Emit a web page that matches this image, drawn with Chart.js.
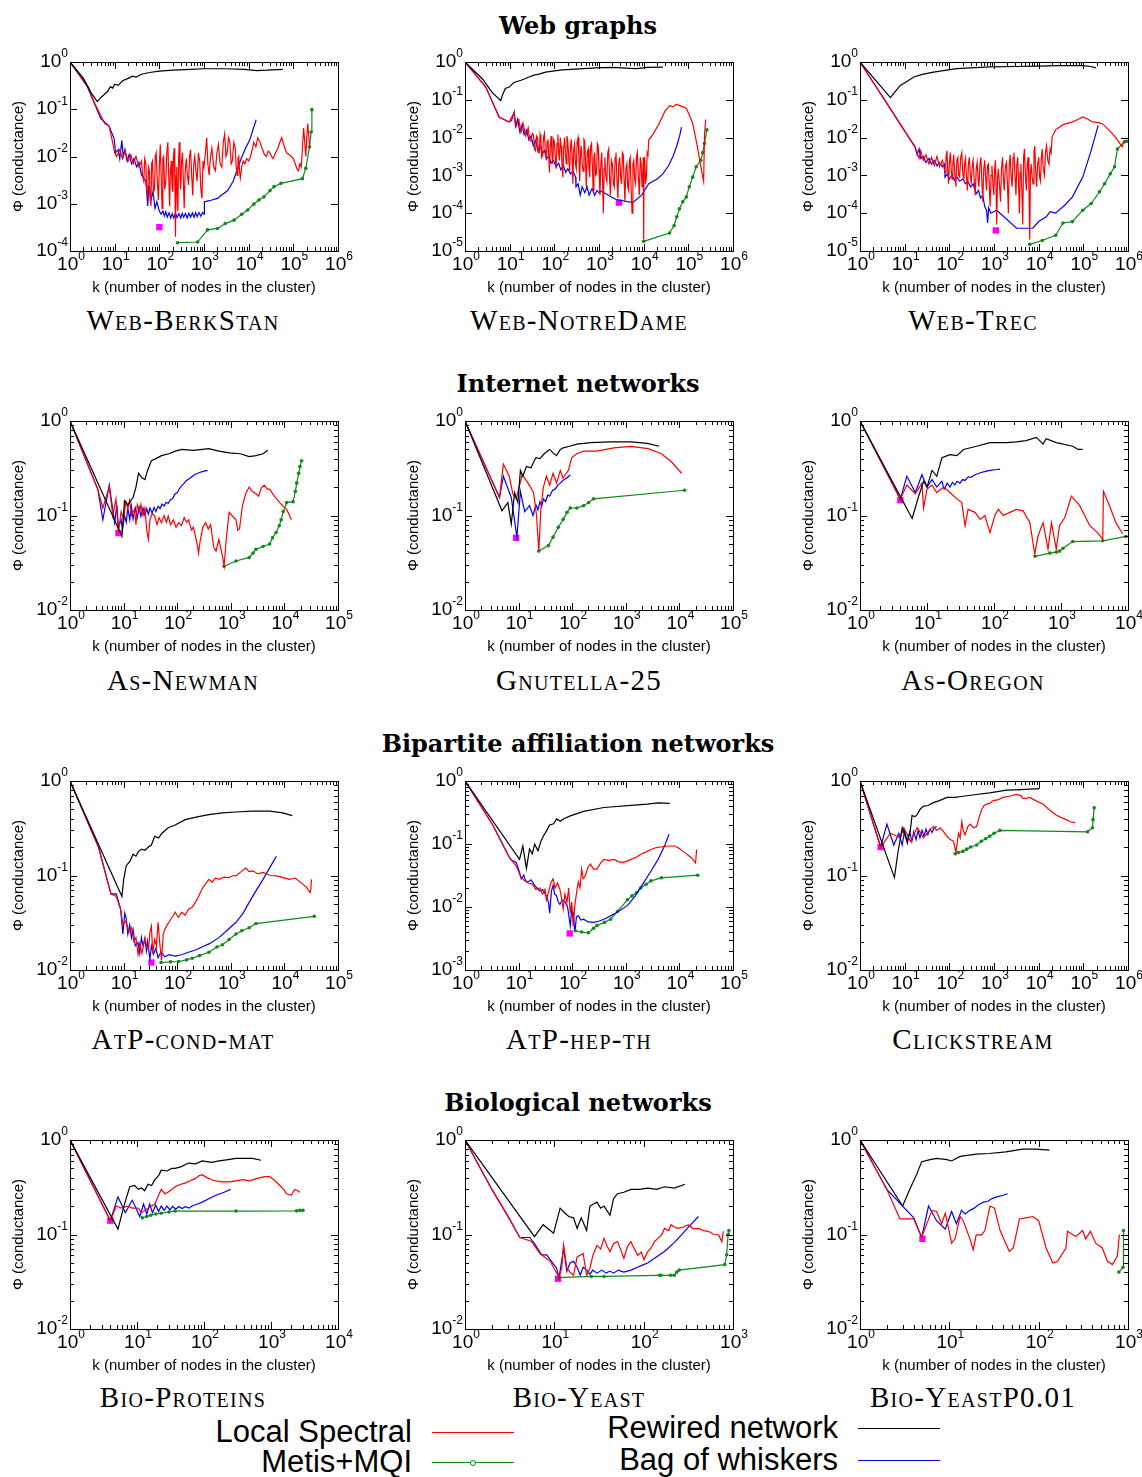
<!DOCTYPE html>
<html>
<head>
<meta charset="utf-8">
<script src="https://cdn.jsdelivr.net/npm/chart.js@4.4.0/dist/chart.umd.min.js"></script>
<style>
  body { margin: 0; background: #fff; width: 1142px; height: 1477px; position: relative; overflow: hidden; }
  .panel { position: absolute; width: 360px; height: 254px; }
  .section { position: absolute; left: 578px; transform: translate(-50%, -50%); font: bold 24px "DejaVu Serif"; white-space: nowrap; }
  .name { position: absolute; transform: translate(-50%, -50%); font: 29px "Liberation Serif"; font-variant: small-caps; letter-spacing: 1.3px; white-space: nowrap; }
  .ltext { position: absolute; font: 31px "Liberation Sans"; white-space: nowrap; transform: translateY(-50%); text-align: right; }
  .lline { position: absolute; width: 82px; height: 0; }
</style>
</head>
<body>
<script>
// ---- Web graphs ----
const berkstanRewired = [[1,1],[2,0.45],[3,0.22],[4.1,0.145],[5,0.18],[6,0.21],[7,0.24],[8,0.3],[9,0.28],[10,0.34],[12,0.32],[15,0.4],[20,0.45],[25,0.5],[30,0.48],[40,0.55],[60,0.6],[100,0.64],[200,0.67],[500,0.7],[1000,0.72],[3000,0.72],[8000,0.7],[15000,0.66],[25000,0.67],[58000,0.7]];
const berkstanSpectral = [[1,1],[2,0.42],[2.5,0.3],[3.5,0.14],[5,0.07],[6,0.05],[7.5,0.044],[9,0.02],[10,0.012],[11,0.01],[13,0.014],[15,0.009],[17,0.013],[20,0.008],[23,0.011],[26,0.007],[30,0.01],[35,0.006],[40,0.008],[42,0.004],[45,0.003],[47,0.009],[50,0.007],[52,0.002],[55,0.0015],[57,0.006],[60,0.005],[62,0.0012],[65,0.0009],[67,0.007],[70,0.008],[74,0.0018],[78,0.002],[81,0.01],[85,0.012],[90,0.003],[95,0.0012],[100,0.006],[105,0.018],[110,0.004],[115,0.0008],[120,0.009],[125,0.01],[132,0.002],[140,0.003],[147,0.012],[155,0.02],[162,0.004],[170,0.0009],[177,0.005],[185,0.008],[192,0.0025],[200,0.0018],[207,0.01],[215,0.015],[222,0.003],[230,0.0002],[237,0.004],[245,0.006],[252,0.0012],[260,0.0007],[270,0.009],[280,0.02],[290,0.005],[300,0.002],[315,0.008],[330,0.012],[345,0.003],[360,0.0008],[380,0.005],[400,0.009],[425,0.004],[450,0.0025],[475,0.01],[500,0.014],[530,0.004],[560,0.0015],[590,0.007],[620,0.01],[660,0.005],[700,0.003],[750,0.012],[800,0.008],[850,0.002],[900,0.0013],[950,0.008],[1000,0.006],[1075,0.012],[1150,0.025],[1220,0.007],[1300,0.004],[1400,0.01],[1500,0.015],[1650,0.006],[1800,0.005],[1950,0.012],[2100,0.018],[2300,0.007],[2500,0.006],[2700,0.02],[2900,0.03],[3100,0.01],[3300,0.012],[3550,0.025],[3800,0.02],[4050,0.007],[4300,0.008],[4650,0.02],[5000,0.015],[5250,0.006],[5500,0.004],[5750,0.009],[6000,0.01],[6250,0.005],[6500,0.0035],[7000,0.006],[7500,0.008],[8200,0.007],[9000,0.009],[10000,0.008],[11000,0.01],[12000,0.014],[13000,0.02],[14500,0.016],[16000,0.025],[18000,0.02],[20000,0.015],[22500,0.011],[25000,0.01],[27500,0.013],[30000,0.012],[32500,0.01],[35000,0.009],[40000,0.012],[45000,0.015],[50000,0.02],[55000,0.025],[62000,0.017],[70000,0.012],[80000,0.011],[90000,0.01],[100000,0.009],[110000,0.007],[120000,0.0055],[130000,0.005],[140000,0.007],[150000,0.006],[160000,0.015],[170000,0.04],[180000,0.02],[190000,0.01],[200000,0.025],[210000,0.05],[220000,0.03],[235000,0.015]];
const berkstanWhiskers = [[1,1],[2.45,0.3],[4.9,0.063],[7.5,0.044],[9.7,0.024],[10.5,0.012],[12,0.014],[13,0.009],[14.5,0.022],[15.5,0.01],[17,0.014],[19,0.008],[21,0.011],[24,0.007],[27,0.009],[31,0.006],[35,0.0075],[40,0.004],[45,0.0035],[50,0.003],[55,0.0009],[58,0.0025],[65,0.0012],[72,0.0018],[80,0.0008],[88,0.0011],[100,0.0007],[110,0.0006],[120,0.0007],[130,0.00055],[140,0.00068],[150,0.00052],[165,0.00064],[180,0.0005],[195,0.00062],[210,0.0005],[230,0.00063],[250,0.00051],[275,0.00062],[300,0.0005],[325,0.00063],[350,0.00052],[385,0.00062],[420,0.0005],[460,0.00063],[500,0.00052],[550,0.00064],[600,0.00052],[650,0.00065],[700,0.00053],[775,0.00065],[850,0.00054],[925,0.00065],[1000,0.0006],[1020,0.0011],[1500,0.0012],[2000,0.0013],[2400,0.0015],[3400,0.0019],[4500,0.003],[6600,0.0084],[8500,0.015],[10500,0.022],[14700,0.06]];
const berkstanMetis = [[256,0.00015],[720,0.000155],[1200,0.00028],[2000,0.0003],[3000,0.00038],[4700,0.00045],[7000,0.0006],[9500,0.00074],[13000,0.00098],[17000,0.0012],[22000,0.0014],[30000,0.0019],[37000,0.0023],[53000,0.0027],[160000,0.0034],[190000,0.0056],[230000,0.016],[250000,0.033],[260000,0.098]];
const berkstanBest = [100, 0.00032];

const notredameRewired = [[1,1],[2.5,0.35],[4,0.16],[6.3,0.095],[7,0.14],[8,0.2],[10,0.22],[12,0.28],[14,0.3],[18,0.33],[22,0.36],[27,0.4],[35,0.45],[45,0.48],[64,0.54],[100,0.58],[150,0.62],[300,0.65],[850,0.7],[2000,0.72],[5000,0.68],[7000,0.67],[12000,0.72],[27000,0.73]];
const notredameSpectral = [[1,1],[2.9,0.22],[5.8,0.035],[9.7,0.026],[12.6,0.045],[14,0.02],[16,0.03],[18,0.014],[20,0.024],[23,0.011],[26,0.018],[28,0.009],[30,0.008],[32,0.013],[34,0.012],[36,0.005],[38,0.0045],[40,0.011],[42,0.01],[44,0.004],[46,0.004],[48,0.012],[50,0.009],[52,0.003],[55,0.0035],[57,0.01],[60,0.013],[63,0.004],[66,0.0025],[69,0.008],[72,0.009],[75,0.003],[78,0.0012],[81,0.006],[85,0.011],[88,0.004],[92,0.002],[96,0.009],[100,0.008],[105,0.003],[110,0.0015],[115,0.007],[120,0.012],[125,0.004],[130,0.0025],[136,0.01],[142,0.006],[148,0.002],[155,0.0009],[162,0.005],[170,0.01],[177,0.004],[185,0.002],[192,0.011],[200,0.008],[210,0.003],[220,0.0012],[230,0.006],[240,0.009],[250,0.003],[260,0.0006],[272,0.005],[285,0.007],[297,0.002],[310,0.0015],[325,0.008],[340,0.01],[355,0.003],[370,0.0007],[385,0.004],[400,0.006],[420,0.002],[440,0.0013],[460,0.009],[480,0.008],[500,0.002],[520,0.0005],[545,0.004],[570,0.005],[595,0.0015],[620,0.0009],[650,0.006],[680,0.007],[710,0.002],[740,0.0004],[770,0.003],[800,0.004],[840,0.001],[880,0.0011],[920,0.007],[960,0.006],[1000,0.0015],[1050,0.0003],[1100,0.002],[1150,0.004],[1200,0.0008],[1250,0.0001],[1300,0.0015],[1350,0.003],[1420,0.001],[1500,0.0007],[1570,0.004],[1650,0.005],[1720,0.0009],[1800,0.0003],[1900,0.0025],[2000,0.002],[2100,0.0006],[2200,0.0005],[2300,0.003],[2400,0.004],[2520,0.0008],[2650,0.00025],[2770,0.002],[2900,0.003],[3050,0.0009],[3200,0.0006],[3350,0.004],[3500,0.0035],[3650,0.0007],[3800,0.0002],[4000,0.0015],[4200,0.002],[4400,0.0005],[4600,0.0004],[4800,0.0025],[5000,0.003],[5250,0.0004],[5500,0.0001],[5750,0.002],[6000,0.0025],[6300,0.0008],[6600,0.0006],[6900,0.003],[7200,0.004],[7600,0.0009],[8000,0.0003],[8400,0.003],[8800,0.002],[9200,0.0005],[9500,0.0008],[9800,0.003],[10000,0.00002],[10200,0.0025],[10500,0.003],[11000,0.0006],[11500,0.0009],[12000,0.004],[12500,0.0035],[13000,0.0086],[16000,0.012],[22000,0.023],[30000,0.05],[38000,0.07],[45000,0.065],[53000,0.075],[65000,0.07],[90000,0.06],[110000,0.035],[125000,0.024],[160000,0.0057],[190000,0.0017],[220000,0.0007],[230000,0.012],[245000,0.03]];
const notredameWhiskers = [[1,1],[2.9,0.22],[5.8,0.035],[9.7,0.026],[11,0.028],[12.6,0.048],[13.5,0.02],[15,0.03],[17,0.014],[19,0.022],[21,0.012],[24,0.016],[27,0.0086],[30,0.011],[34,0.006],[38,0.0085],[43,0.0045],[48,0.006],[54,0.0038],[60,0.0045],[67,0.0028],[75,0.0032],[85,0.0021],[95,0.0025],[110,0.0017],[125,0.0021],[140,0.0014],[160,0.0018],[180,0.0012],[200,0.0015],[230,0.0011],[260,0.0013],[300,0.0009],[305,0.0005],[340,0.0006],[380,0.0003],[420,0.0005],[480,0.00035],[540,0.0005],[600,0.0003],[700,0.00045],[800,0.0003],[900,0.0004],[1000,0.00035],[1050,0.0004],[2400,0.00023],[5700,0.00019],[9000,0.0003],[13000,0.0006],[20000,0.0008],[27000,0.0011],[36000,0.0018],[45000,0.0031],[55000,0.006],[65000,0.012],[70000,0.019]];
const notredameMetis = [[10000,0.000018],[38000,0.00003],[48000,0.000047],[55000,0.00008],[63000,0.00013],[75000,0.0002],[90000,0.00027],[105000,0.0005],[125000,0.0009],[150000,0.0017],[190000,0.0025],[210000,0.004],[230000,0.007],[260000,0.016]];
const notredameBest = [2800, 0.00019];

const trecRewired = [[1,1],[4.8,0.114],[6,0.16],[8,0.24],[11,0.3],[16,0.4],[25,0.47],[44,0.54],[80,0.6],[146,0.67],[300,0.7],[800,0.74],[3000,0.76],[10000,0.78],[25000,0.8],[96000,0.8],[150000,0.76],[190000,0.7]];
const trecSpectral = [[1,1],[17,0.0057],[19,0.004],[21,0.0028],[23,0.0045],[26,0.0025],[30,0.0035],[35,0.002],[40,0.003],[46,0.0018],[53,0.0032],[60,0.0017],[70,0.0025],[80,0.0012],[84,0.003],[88,0.0045],[92,0.0015],[96,0.0006],[100,0.002],[105,0.004],[110,0.0015],[115,0.0008],[120,0.002],[125,0.0035],[132,0.0012],[140,0.0005],[147,0.0025],[155,0.003],[162,0.001],[170,0.0009],[180,0.003],[190,0.004],[200,0.0012],[210,0.0007],[220,0.002],[230,0.0028],[242,0.0009],[255,0.0004],[267,0.002],[280,0.003],[295,0.001],[310,0.0006],[325,0.0018],[340,0.0025],[360,0.0008],[380,0.0003],[400,0.0015],[420,0.0022],[440,0.0008],[460,0.0005],[485,0.002],[510,0.003],[535,0.0007],[560,0.0002],[590,0.0015],[620,0.0025],[650,0.0009],[680,0.0004],[715,0.0018],[750,0.002],[785,0.0005],[820,0.00015],[860,0.001],[900,0.0018],[945,0.0006],[990,0.0003],[1035,0.0015],[1080,0.0025],[1115,0.0004],[1150,0.00005],[1200,0.0008],[1250,0.0015],[1320,0.0006],[1400,0.0002],[1470,0.0015],[1550,0.003],[1620,0.0009],[1700,0.0004],[1800,0.0018],[1900,0.0022],[2000,0.0006],[2100,0.0001],[2200,0.002],[2300,0.0035],[2420,0.0009],[2550,0.0005],[2670,0.003],[2800,0.004],[2950,0.001],[3100,0.0003],[3250,0.002],[3400,0.003],[3550,0.0006],[3700,0.0001],[3850,0.0012],[4000,0.002],[4200,0.0004],[4400,0.00005],[4600,0.003],[4800,0.005],[5050,0.001],[5300,0.0004],[5550,0.002],[5800,0.003],[6050,0.0005],[6300,0.00002],[6550,0.0012],[6800,0.002],[7150,0.0009],[7500,0.0006],[7850,0.004],[8200,0.006],[8600,0.0012],[9000,0.0005],[9500,0.002],[10000,0.003],[10500,0.0009],[11000,0.0007],[11500,0.003],[12000,0.005],[12700,0.0015],[13500,0.001],[14200,0.004],[15000,0.006],[16000,0.0025],[17000,0.002],[18000,0.005],[19000,0.004],[20000,0.0105],[24000,0.016],[35000,0.022],[57000,0.026],[75000,0.03],[97000,0.035],[130000,0.03],[160000,0.026],[220000,0.025],[270000,0.023],[370000,0.016],[500000,0.011],[620000,0.0077],[740000,0.0057],[800000,0.008],[870000,0.0085]];
const trecWhiskers = [[1,1],[17,0.0057],[19,0.0035],[21,0.005],[23,0.0028],[26,0.0032],[30,0.0022],[35,0.0028],[40,0.002],[46,0.0025],[53,0.0018],[60,0.0022],[70,0.0017],[78,0.002],[80,0.0009],[90,0.0011],[100,0.0008],[115,0.001],[130,0.00075],[150,0.0009],[170,0.0007],[200,0.0008],[230,0.0006],[260,0.0007],[300,0.0005],[340,0.0006],[400,0.00033],[450,0.0004],[500,0.00025],[560,0.0003],[620,0.00015],[680,0.00012],[720,0.000055],[760,0.00014],[850,0.0001],[1150,0.00012],[3200,0.00004],[7400,0.00004],[10000,0.00006],[14800,0.00008],[18000,0.00011],[24000,0.0001],[40000,0.00017],[57000,0.00027],[97000,0.0009],[150000,0.0046],[215000,0.021]];
const trecMetis = [[6300,0.000015],[12000,0.000019],[24000,0.000026],[35000,0.000055],[57000,0.00006],[97000,0.00012],[150000,0.00018],[230000,0.00037],[300000,0.0006],[400000,0.0011],[500000,0.0017],[580000,0.005],[830000,0.0077],[930000,0.008]];
const trecBest = [1100, 0.000035];

// ---- Internet networks ----
const newmanRewired = [[1,1],[9.3,0.06],[10.4,0.143],[12,0.13],[15,0.155],[17,0.2],[19,0.28],[22,0.25],[25,0.24],[28,0.3],[33,0.38],[40,0.4],[51,0.43],[70,0.45],[92,0.48],[122,0.5],[200,0.49],[390,0.51],[600,0.48],[930,0.46],[1500,0.45],[2200,0.42],[2950,0.43],[4000,0.45],[4900,0.49]];
const newmanSpectral = [[1,1],[3.3,0.19],[4.1,0.12],[5.4,0.2],[6.3,0.1],[7.2,0.15],[8,0.065],[9,0.11],[10,0.09],[11,0.14],[12,0.12],[13,0.145],[14,0.1],[16,0.116],[17,0.08],[18,0.13],[20,0.11],[21,0.13],[23,0.1],[25,0.12],[27,0.07],[29,0.056],[31,0.09],[34,0.105],[38,0.099],[42,0.08],[46,0.095],[51,0.084],[57,0.1],[63,0.085],[68,0.099],[75,0.08],[85,0.09],[95,0.075],[106,0.084],[120,0.078],[135,0.095],[150,0.085],[163,0.09],[185,0.07],[200,0.075],[218,0.061],[235,0.05],[250,0.04],[270,0.055],[300,0.075],[340,0.084],[380,0.072],[420,0.08],[480,0.046],[530,0.042],[600,0.056],[650,0.045],[700,0.037],[750,0.029],[830,0.06],[930,0.108],[1050,0.1],[1250,0.09],[1350,0.07],[1450,0.072],[1650,0.127],[1900,0.17],[2200,0.2],[2500,0.18],[2950,0.17],[3300,0.16],[3700,0.195],[4200,0.21],[4800,0.19],[5300,0.19],[6500,0.16],[8200,0.137],[9500,0.125],[11000,0.116],[12500,0.1],[13500,0.09]];
const newmanWhiskers = [[1,1],[3.3,0.19],[4.1,0.09],[5.4,0.21],[6.8,0.084],[7.5,0.13],[8,0.075],[9,0.09],[9.5,0.07],[10.4,0.1],[11.2,0.085],[12,0.12],[13,0.09],[14,0.125],[15,0.092],[16.5,0.12],[18,0.095],[19.5,0.122],[21,0.098],[23,0.12],[25,0.1],[27,0.118],[29,0.103],[31,0.12],[34,0.106],[37,0.122],[40,0.11],[44,0.125],[48,0.118],[52,0.132],[57,0.126],[62,0.138],[68,0.134],[75,0.148],[82,0.15],[90,0.168],[100,0.175],[115,0.2],[130,0.215],[150,0.235],[175,0.25],[210,0.27],[260,0.285],[320,0.295],[370,0.3]];
const newmanMetis = [[750,0.029],[1250,0.033],[2200,0.036],[2600,0.04],[2950,0.044],[4000,0.047],[5300,0.05],[6000,0.058],[7000,0.066],[8000,0.078],[8700,0.09],[9500,0.11],[11000,0.137],[14500,0.14],[16000,0.18],[17000,0.22],[18500,0.28],[19500,0.33],[21000,0.38]];
const newmanBest = [8, 0.065];

const gnutellaRewired = [[1,1],[4.9,0.112],[6.3,0.137],[7.3,0.081],[8.4,0.175],[9.7,0.137],[10.8,0.3],[12,0.26],[14,0.33],[17,0.32],[21,0.41],[25,0.4],[30,0.45],[38,0.5],[44,0.46],[51,0.43],[60,0.5],[68,0.52],[90,0.54],[122,0.57],[220,0.59],[500,0.6],[1250,0.6],[2500,0.58],[4200,0.54]];
const gnutellaSpectral = [[1,1],[4.4,0.155],[5.2,0.35],[6.7,0.26],[7.8,0.17],[9,0.15],[11.7,0.27],[15,0.22],[19,0.175],[21.6,0.1],[23.8,0.042],[26,0.116],[29,0.2],[33,0.26],[38,0.21],[44,0.28],[51,0.22],[60,0.3],[67,0.25],[74,0.27],[85,0.3],[98,0.41],[122,0.45],[163,0.48],[290,0.48],[600,0.52],[1250,0.54],[2600,0.51],[4600,0.45],[7100,0.37],[11000,0.28]];
const gnutellaWhiskers = [[1,1],[4.4,0.155],[5.2,0.26],[7.3,0.155],[9.3,0.059],[10.8,0.18],[13,0.11],[16,0.127],[18.6,0.1],[21,0.13],[23,0.115],[25,0.14],[27,0.125],[29,0.15],[32,0.14],[35,0.165],[38,0.16],[43,0.185],[48,0.19],[54,0.21],[60,0.22],[70,0.24],[80,0.25],[92,0.27]];
const gnutellaMetis = [[23.8,0.042],[36,0.048],[44,0.059],[55,0.075],[68,0.091],[80,0.108],[92,0.12],[122,0.12],[163,0.127],[203,0.137],[250,0.15],[12500,0.185]];
const gnutellaBest = [9, 0.058];

const oregonRewired = [[1,1],[6,0.093],[7.5,0.16],[8.9,0.23],[10,0.2],[11.9,0.3],[14,0.26],[16.7,0.41],[22,0.44],[28,0.43],[35,0.5],[55,0.54],[87,0.59],[155,0.59],[216,0.6],[300,0.62],[430,0.67],[540,0.57],[600,0.65],[850,0.59],[1500,0.54],[1800,0.5],[2100,0.5]];
const oregonSpectral = [[1,1],[4,0.149],[5,0.21],[6.7,0.17],[8.4,0.22],[8.9,0.12],[10,0.19],[11.9,0.21],[14,0.175],[17.7,0.2],[22,0.175],[28,0.15],[33,0.137],[37,0.078],[41,0.116],[52,0.108],[62,0.091],[73,0.1],[87,0.066],[103,0.1],[116,0.116],[138,0.1],[173,0.108],[216,0.116],[272,0.112],[343,0.084],[405,0.039],[455,0.061],[540,0.084],[640,0.044],[720,0.084],[850,0.044],[950,0.078],[1140,0.095],[1430,0.16],[1900,0.127],[2700,0.078],[3500,0.066],[4200,0.056],[4300,0.18],[5300,0.127],[6600,0.084],[8300,0.064]];
const oregonWhiskers = [[1,1],[4,0.149],[5,0.26],[6.7,0.175],[8.4,0.27],[10,0.2],[11.9,0.24],[14,0.2],[16.7,0.23],[18,0.19],[20,0.22],[22,0.2],[24,0.225],[26,0.21],[28,0.23],[31,0.22],[34,0.24],[37,0.235],[41,0.255],[46,0.255],[52,0.27],[60,0.28],[70,0.29],[87,0.3],[105,0.305],[123,0.31]];
const oregonMetis = [[410,0.037],[680,0.04],[850,0.041],[950,0.042],[1070,0.045],[1500,0.053],[4200,0.054],[9300,0.06]];
const oregonBest = [4, 0.145];

// ---- Bipartite affiliation networks ----
const condmatRewired = [[1,1],[9.3,0.06],[10,0.09],[11.2,0.127],[13,0.14],[15,0.168],[17,0.16],[19,0.18],[21.6,0.19],[25,0.185],[29,0.2],[33,0.21],[38,0.26],[45,0.25],[52,0.28],[68,0.32],[90,0.34],[141,0.39],[250,0.42],[390,0.44],[700,0.46],[1250,0.47],[2500,0.48],[5300,0.48],[9400,0.46],[14000,0.43]];
const condmatSpectral = [[1,1],[3.4,0.2],[5.8,0.064],[7.3,0.06],[8.8,0.044],[9.7,0.03],[11,0.033],[12.5,0.025],[14,0.028],[15.5,0.02],[17,0.022],[18.6,0.0147],[20,0.019],[22,0.015],[25,0.022],[27,0.017],[29,0.0164],[31,0.025],[33,0.029],[35,0.015],[38,0.021],[41,0.018],[44,0.032],[47,0.02],[51,0.0126],[55,0.024],[59,0.027],[65,0.03],[75,0.034],[85,0.038],[92,0.041],[105,0.036],[122,0.041],[140,0.038],[163,0.044],[190,0.046],[218,0.052],[250,0.06],[290,0.072],[340,0.082],[390,0.091],[450,0.085],[520,0.094],[600,0.091],[750,0.096],[930,0.095],[1100,0.1],[1250,0.099],[1500,0.108],[1900,0.12],[2200,0.11],[2600,0.112],[3200,0.104],[4000,0.108],[5500,0.1],[7100,0.099],[9500,0.095],[12500,0.091],[16000,0.094],[22000,0.081],[26000,0.075],[30000,0.066],[31000,0.07],[32000,0.091]];
const condmatWhiskers = [[1,1],[3.4,0.2],[5.8,0.064],[7.3,0.064],[8.8,0.044],[9.7,0.024],[10.5,0.04],[11.2,0.035],[12,0.024],[13,0.03],[14,0.022],[15,0.027],[16.5,0.018],[18.6,0.0195],[20,0.015],[21.5,0.022],[23,0.018],[25,0.021],[26.7,0.016],[28,0.02],[31,0.013],[33,0.018],[36,0.0147],[40,0.017],[44,0.0135],[50,0.0155],[59,0.0138],[70,0.0145],[92,0.014],[120,0.0145],[163,0.0154],[220,0.0163],[290,0.0175],[400,0.019],[600,0.022],[900,0.027],[1250,0.032],[1700,0.04],[2200,0.052],[3000,0.07],[4000,0.091],[5500,0.125],[7100,0.16]];
const condmatMetis = [[50,0.012],[75,0.0122],[106,0.0123],[150,0.0128],[190,0.0133],[260,0.0142],[390,0.0154],[550,0.0175],[700,0.0185],[930,0.021],[1250,0.024],[1600,0.026],[2200,0.028],[2950,0.031],[36000,0.037]];
const condmatBest = [33, 0.012];

const hepthRewired = [[1,1],[10.4,0.057],[12,0.093],[14,0.041],[16,0.083],[18,0.07],[20,0.099],[23,0.078],[26,0.11],[29,0.134],[33,0.16],[38,0.2],[45,0.21],[51,0.25],[60,0.23],[68,0.25],[92,0.28],[163,0.33],[390,0.38],[1250,0.41],[2500,0.43],[4000,0.45],[6600,0.44]];
const hepthSpectral = [[1,1],[3.3,0.2],[5,0.1],[6.8,0.06],[9,0.045],[11,0.03],[13,0.026],[15,0.024],[18,0.023],[21,0.019],[25,0.02],[28,0.016],[31,0.019],[33,0.013],[36,0.017],[40,0.024],[44,0.028],[48,0.02],[53,0.024],[59,0.019],[64,0.013],[68,0.0093],[73,0.016],[80,0.012],[86,0.02],[92,0.008],[98,0.012],[104,0.005],[110,0.009],[114,0.012],[122,0.018],[130,0.025],[140,0.02],[150,0.04],[160,0.028],[175,0.031],[195,0.042],[218,0.048],[250,0.04],[290,0.04],[340,0.05],[390,0.057],[480,0.055],[600,0.057],[750,0.052],[930,0.051],[1250,0.057],[1600,0.062],[1900,0.069],[2400,0.075],[2950,0.082],[3700,0.088],[4600,0.09],[6000,0.093],[8200,0.093],[10000,0.085],[12500,0.073],[15000,0.065],[17000,0.06],[20000,0.05],[21000,0.082]];
const hepthWhiskers = [[1,1],[3.3,0.2],[5,0.1],[6.8,0.06],[7.5,0.055],[9,0.051],[10,0.04],[11.2,0.028],[12.5,0.032],[13.5,0.026],[15,0.025],[17,0.027],[20,0.022],[22,0.02],[25,0.018],[28,0.019],[33,0.015],[36,0.012],[38,0.008],[41,0.018],[44,0.022],[47,0.016],[51,0.015],[55,0.012],[59,0.011],[65,0.013],[74,0.012],[82,0.01],[92,0.005],[98,0.009],[106,0.008],[110,0.0045],[114,0.0045],[120,0.007],[130,0.0073],[145,0.0062],[163,0.0064],[200,0.0058],[250,0.0057],[320,0.006],[390,0.0064],[600,0.0077],[1070,0.0105],[1500,0.015],[2200,0.025],[3000,0.038],[4000,0.057],[5200,0.09],[6400,0.143]];
const hepthMetis = [[114,0.0042],[150,0.004],[200,0.0039],[250,0.0046],[290,0.0051],[400,0.0057],[520,0.0064],[700,0.0085],[1070,0.013],[1300,0.015],[1600,0.017],[1900,0.02],[2400,0.023],[2950,0.026],[4600,0.029],[22000,0.032]];
const hepthBest = [90, 0.0038];

const clickRewired = [[1,1],[5.9,0.095],[7,0.17],[8.8,0.32],[10,0.27],[11.3,0.23],[13.4,0.3],[14.6,0.43],[17,0.42],[19,0.44],[22,0.5],[26,0.54],[33,0.55],[44,0.59],[60,0.62],[88,0.67],[130,0.67],[206,0.69],[400,0.72],[800,0.75],[1900,0.8],[4000,0.81],[10500,0.83]];
const clickSpectral = [[1,1],[2.9,0.2],[4.8,0.28],[6.8,0.26],[8,0.25],[9.5,0.32],[11,0.28],[13.4,0.23],[16,0.27],[19,0.32],[22,0.29],[26,0.25],[32,0.28],[38,0.31],[44,0.33],[52,0.3],[62,0.32],[75,0.29],[88,0.26],[105,0.24],[124,0.23],[141,0.175],[160,0.28],[175,0.25],[190,0.37],[205,0.3],[225,0.27],[260,0.33],[290,0.35],[350,0.32],[410,0.33],[470,0.42],[530,0.5],[600,0.55],[680,0.57],[800,0.58],[960,0.62],[1200,0.63],[1600,0.67],[2200,0.69],[3200,0.72],[4000,0.7],[4500,0.65],[5500,0.66],[6400,0.67],[8500,0.62],[12500,0.57],[17000,0.5],[24000,0.44],[32000,0.41],[41000,0.39],[52000,0.37],[66000,0.36]];
const clickWhiskers = [[1,1],[2.9,0.2],[4,0.35],[5.7,0.21],[7.4,0.28],[8.8,0.21],[10,0.3],[11.5,0.22],[13,0.29],[14.5,0.23],[16,0.29],[18,0.24],[20,0.3],[22,0.25],[24.5,0.3],[27,0.26],[30,0.31],[33,0.27],[37,0.31],[41,0.285],[46,0.32],[52,0.33]];
const clickMetis = [[135,0.17],[160,0.175],[200,0.18],[245,0.19],[300,0.2],[410,0.21],[520,0.23],[650,0.245],[800,0.26],[1000,0.28],[1350,0.3],[124000,0.29],[160000,0.32],[165000,0.39],[175000,0.52]];
const clickBest = [2.9, 0.2];

// ---- Biological networks ----
const proteinsRewired = [[1,1],[5.2,0.114],[6.5,0.21],[7.8,0.32],[9.2,0.33],[10.5,0.3],[11.7,0.31],[13,0.29],[14.6,0.34],[16.5,0.33],[18.5,0.38],[21,0.42],[23,0.48],[28,0.47],[33,0.5],[37,0.5],[45,0.52],[59,0.57],[75,0.56],[94,0.6],[130,0.58],[168,0.6],[230,0.62],[300,0.64],[530,0.64],[710,0.61]];
const proteinsSpectral = [[1,1],[4,0.14],[4.9,0.2],[5.8,0.19],[7.3,0.2],[8.5,0.19],[10.4,0.19],[11.7,0.17],[13,0.18],[14.6,0.19],[16.5,0.2],[18.5,0.21],[21,0.26],[23,0.3],[26,0.27],[29,0.28],[33,0.3],[37,0.32],[45,0.34],[52,0.35],[62,0.37],[74,0.39],[85,0.42],[94,0.43],[110,0.4],[130,0.38],[150,0.37],[190,0.36],[240,0.36],[300,0.37],[380,0.38],[480,0.37],[600,0.39],[800,0.41],[950,0.41],[1150,0.37],[1350,0.33],[1550,0.3],[1700,0.27],[2000,0.26],[2250,0.3],[2500,0.29],[2700,0.28]];
const proteinsWhiskers = [[1,1],[4,0.14],[5.2,0.25],[6.7,0.17],[8.5,0.23],[11,0.155],[12.5,0.21],[14,0.165],[15.5,0.21],[17,0.17],[19,0.205],[21,0.175],[23,0.2],[25.5,0.18],[28,0.2],[31,0.182],[34,0.198],[38,0.185],[42,0.198],[47,0.188],[53,0.197],[60,0.19],[66,0.2],[80,0.21],[94,0.22],[120,0.24],[150,0.26],[200,0.28],[250,0.3]];
const proteinsMetis = [[12,0.15],[14,0.155],[16,0.16],[19,0.165],[23,0.168],[30,0.173],[37,0.177],[300,0.177],[2400,0.178],[2700,0.18],[3000,0.18]];
const proteinsBest = [4, 0.14];

const yeastRewired = [[1,1],[6,0.095],[7.5,0.127],[9.8,0.103],[11.6,0.19],[13,0.17],[14.5,0.155],[16.4,0.15],[18,0.116],[20,0.15],[23,0.11],[25,0.2],[30,0.22],[33,0.19],[36,0.2],[42,0.16],[46,0.24],[51,0.27],[60,0.28],[72,0.3],[90,0.3],[111,0.31],[140,0.3],[171,0.32],[220,0.31],[290,0.34]];
const yeastSpectral = [[1,1],[2,0.3],[3.1,0.15],[4.1,0.093],[5.5,0.085],[6.9,0.063],[9,0.052],[11.3,0.035],[12.1,0.044],[12.7,0.078],[13.8,0.044],[15,0.04],[16.4,0.037],[18,0.058],[21,0.063],[23,0.037],[25,0.044],[27,0.06],[30,0.077],[33,0.07],[36,0.091],[39,0.075],[42,0.066],[46,0.08],[51,0.084],[55,0.07],[60,0.056],[66,0.075],[72,0.084],[79,0.07],[86,0.06],[94,0.065],[101,0.054],[110,0.065],[121,0.072],[133,0.085],[145,0.091],[160,0.1],[171,0.116],[190,0.11],[203,0.127],[220,0.12],[242,0.116],[280,0.12],[315,0.127],[360,0.115],[410,0.116],[470,0.11],[530,0.108],[610,0.1],[690,0.099],[750,0.084],[780,0.108]];
const yeastWhiskers = [[1,1],[2,0.3],[3.1,0.15],[4.1,0.093],[5.3,0.093],[6,0.08],[7.2,0.061],[8.2,0.061],[10.6,0.044],[11.3,0.035],[12.7,0.072],[13.8,0.041],[15,0.05],[16.4,0.052],[18,0.045],[19.5,0.037],[21,0.045],[23,0.042],[25,0.038],[27,0.042],[30,0.039],[34,0.042],[38,0.039],[42,0.041],[46,0.039],[52,0.042],[60,0.04],[72,0.042],[85,0.045],[100,0.048],[111,0.05],[140,0.058],[171,0.066],[220,0.082],[265,0.099],[330,0.125],[410,0.155]];
const yeastMetis = [[11.3,0.035],[26,0.036],[36,0.036],[150,0.037],[157,0.037],[200,0.037],[220,0.037],[235,0.04],[250,0.042],[810,0.048],[850,0.061],[880,0.1],[900,0.11]];
const yeastBest = [11, 0.034];

const yeastpRewired = [[1,1],[3,0.2],[3.66,0.31],[4.3,0.43],[4.9,0.59],[6.1,0.62],[7.2,0.64],[9.4,0.62],[10.6,0.6],[13.2,0.67],[20,0.71],[28,0.72],[43,0.75],[66,0.8],[94,0.8],[132,0.78]];
const yeastpSpectral = [[1,1],[2,0.3],[2.8,0.146],[4,0.146],[4.9,0.093],[5.6,0.13],[6.4,0.18],[7.2,0.175],[8.2,0.13],[9,0.168],[9.4,0.14],[10.6,0.081],[11.6,0.09],[13.2,0.155],[14.3,0.14],[17,0.09],[18.5,0.069],[20,0.099],[23,0.099],[25,0.11],[28.5,0.2],[32,0.19],[37,0.11],[42,0.084],[47,0.066],[52,0.072],[61,0.146],[72,0.15],[86,0.155],[100,0.14],[121,0.072],[144,0.05],[163,0.052],[202,0.072],[210,0.108],[260,0.095],[310,0.11],[335,0.09],[380,0.108],[435,0.081],[515,0.072],[590,0.052],[670,0.048],[760,0.059],[800,0.1]];
const yeastpWhiskers = [[1,1],[2,0.3],[3,0.2],[4,0.15],[4.9,0.093],[5.85,0.2],[7.2,0.14],[9,0.114],[10.6,0.175],[12,0.13],[13.7,0.18],[15,0.165],[17,0.18],[19,0.19],[21,0.205],[24,0.22],[27,0.225],[30,0.24],[34,0.25],[40,0.26],[45,0.27]];
const yeastpMetis = [[790,0.04],[880,0.045],[890,0.11]];
const yeastpBest = [5, 0.09];

const sectionTitles = ['Web graphs', 'Internet networks', 'Bipartite affiliation networks', 'Biological networks'];
const legendLabels = ['Local Spectral', 'Metis+MQI', 'Rewired network', 'Bag of whiskers'];

const panels = [
  { name: 'Web-BerkStan', xMax: 1e6, yMin: 1e-4, rewired: berkstanRewired, spectral: berkstanSpectral, whiskers: berkstanWhiskers, metis: berkstanMetis, best: berkstanBest },
  { name: 'Web-NotreDame', xMax: 1e6, yMin: 1e-5, rewired: notredameRewired, spectral: notredameSpectral, whiskers: notredameWhiskers, metis: notredameMetis, best: notredameBest },
  { name: 'Web-Trec', xMax: 1e6, yMin: 1e-5, rewired: trecRewired, spectral: trecSpectral, whiskers: trecWhiskers, metis: trecMetis, best: trecBest },
  { name: 'As-Newman', xMax: 1e5, yMin: 1e-2, rewired: newmanRewired, spectral: newmanSpectral, whiskers: newmanWhiskers, metis: newmanMetis, best: newmanBest },
  { name: 'Gnutella-25', xMax: 1e5, yMin: 1e-2, rewired: gnutellaRewired, spectral: gnutellaSpectral, whiskers: gnutellaWhiskers, metis: gnutellaMetis, best: gnutellaBest },
  { name: 'As-Oregon', xMax: 1e4, yMin: 1e-2, rewired: oregonRewired, spectral: oregonSpectral, whiskers: oregonWhiskers, metis: oregonMetis, best: oregonBest },
  { name: 'AtP-cond-mat', xMax: 1e5, yMin: 1e-2, rewired: condmatRewired, spectral: condmatSpectral, whiskers: condmatWhiskers, metis: condmatMetis, best: condmatBest },
  { name: 'AtP-hep-th', xMax: 1e5, yMin: 1e-3, rewired: hepthRewired, spectral: hepthSpectral, whiskers: hepthWhiskers, metis: hepthMetis, best: hepthBest },
  { name: 'Clickstream', xMax: 1e6, yMin: 1e-2, rewired: clickRewired, spectral: clickSpectral, whiskers: clickWhiskers, metis: clickMetis, best: clickBest },
  { name: 'Bio-Proteins', xMax: 1e4, yMin: 1e-2, rewired: proteinsRewired, spectral: proteinsSpectral, whiskers: proteinsWhiskers, metis: proteinsMetis, best: proteinsBest },
  { name: 'Bio-Yeast', xMax: 1e3, yMin: 1e-2, rewired: yeastRewired, spectral: yeastSpectral, whiskers: yeastWhiskers, metis: yeastMetis, best: yeastBest },
  { name: 'Bio-YeastP0.01', xMax: 1e3, yMin: 1e-2, rewired: yeastpRewired, spectral: yeastpSpectral, whiskers: yeastpWhiskers, metis: yeastpMetis, best: yeastpBest }
];

const COL_LEFT = [0, 395, 790];
const ROW_TOP = [47, 406, 766, 1125];
const NAME_X = [183, 579, 973];
const NAME_Y = [320, 680, 1039, 1397];
const SECTION_Y = [25, 383, 743, 1102];
const SANS = '"Liberation Sans", Arial, sans-serif';

// draws "10" with a raised exponent
function powLabel(ctx, e, x, y, align) {
  const base = '10', exp = String(e);
  ctx.font = '19px ' + SANS;
  const wb = ctx.measureText(base).width;
  ctx.font = '12px ' + SANS;
  const we = ctx.measureText(exp).width;
  const left = align === 'right' ? x - wb - we : x - (wb + we) / 2 + 1;
  ctx.textAlign = 'left';
  ctx.textBaseline = 'middle';
  ctx.font = '19px ' + SANS;
  ctx.fillText(base, left, y);
  ctx.font = '12px ' + SANS;
  ctx.fillText(exp, left + wb, y - 8);
}

// gnuplot-like frame: inward ticks on all four sides, labels, titles
const gnuAxes = {
  id: 'gnuAxes',
  afterDatasetsDraw(chart) {
    const { ctx, chartArea: a } = chart;
    const xs = chart.scales.x, ys = chart.scales.y;
    const xe0 = Math.round(Math.log10(xs.min)), xe1 = Math.round(Math.log10(xs.max));
    const ye0 = Math.round(Math.log10(ys.min)), ye1 = Math.round(Math.log10(ys.max));
    ctx.save();
    ctx.strokeStyle = '#000';
    ctx.lineWidth = 1;
    ctx.beginPath();
    for (let e = xe0; e <= xe1; e++) {
      const px = Math.round(xs.getPixelForValue(Math.pow(10, e))) + 0.5;
      ctx.moveTo(px, a.bottom); ctx.lineTo(px, a.bottom - 7);
      ctx.moveTo(px, a.top); ctx.lineTo(px, a.top + 7);
      if (e < xe1) {
        for (let k = 2; k <= 9; k++) {
          const mx = Math.round(xs.getPixelForValue(k * Math.pow(10, e))) + 0.5;
          ctx.moveTo(mx, a.bottom); ctx.lineTo(mx, a.bottom - 4);
          ctx.moveTo(mx, a.top); ctx.lineTo(mx, a.top + 4);
        }
      }
    }
    for (let e = ye0; e <= ye1; e++) {
      const py = Math.round(ys.getPixelForValue(Math.pow(10, e))) + 0.5;
      ctx.moveTo(a.left, py); ctx.lineTo(a.left + 7, py);
      ctx.moveTo(a.right, py); ctx.lineTo(a.right - 7, py);
      if (e < ye1 && ye1 - ye0 <= 3) {
        for (let k = 2; k <= 9; k++) {
          const my = Math.round(ys.getPixelForValue(k * Math.pow(10, e))) + 0.5;
          ctx.moveTo(a.left, my); ctx.lineTo(a.left + 4, my);
          ctx.moveTo(a.right, my); ctx.lineTo(a.right - 4, my);
        }
      }
    }
    ctx.stroke();
    ctx.strokeRect(Math.round(a.left) + 0.5, Math.round(a.top) + 0.5, Math.round(a.right - a.left), Math.round(a.bottom - a.top));

    ctx.fillStyle = '#000';
    for (let e = xe0; e <= xe1; e++) {
      powLabel(ctx, e, xs.getPixelForValue(Math.pow(10, e)), a.bottom + 14, 'center');
    }
    for (let e = ye0; e <= ye1; e++) {
      powLabel(ctx, e, a.left - 2, ys.getPixelForValue(Math.pow(10, e)), 'right');
    }
    ctx.font = '15px ' + SANS;
    ctx.textAlign = 'center';
    ctx.textBaseline = 'middle';
    ctx.fillText('k (number of nodes in the cluster)', (a.left + a.right) / 2, a.bottom + 37);
    ctx.translate(19, (a.top + a.bottom) / 2);
    ctx.rotate(-Math.PI / 2);
    ctx.fillText('\u03A6 (conductance)', 0, 0);
    ctx.restore();
  }
};

function lineSet(data, color) {
  return { data, borderColor: color, backgroundColor: color, showLine: true, borderWidth: 1.2, pointRadius: 0 };
}

panels.forEach((p, i) => {
  const col = i % 3, row = Math.floor(i / 3);
  const canvas = document.createElement('canvas');
  canvas.className = 'panel';
  canvas.width = 360; canvas.height = 254;
  canvas.style.left = COL_LEFT[col] + 'px';
  canvas.style.top = ROW_TOP[row] + 'px';
  document.body.appendChild(canvas);

  new Chart(canvas, {
    type: 'scatter',
    data: {
      datasets: [
        lineSet(p.rewired, '#000000'),
        lineSet(p.spectral, '#ff0000'),
        lineSet(p.whiskers, '#0000ff'),
        { data: p.metis, borderColor: '#12881a', backgroundColor: '#12881a', showLine: true, borderWidth: 1.2, pointRadius: 1.8, pointBorderWidth: 0 },
        { data: [p.best], pointStyle: 'rect', pointRadius: 4.5, backgroundColor: '#ff00ff', borderColor: '#ff00ff', borderWidth: 0, showLine: false, clip: false }
      ]
    },
    options: {
      responsive: false,
      animation: false,
      devicePixelRatio: 1,
      events: [],
      layout: { padding: { left: 70, top: 15, right: 22, bottom: 50 } },
      plugins: { legend: { display: false }, tooltip: { enabled: false } },
      scales: {
        x: { type: 'logarithmic', display: false, min: 1, max: p.xMax },
        y: { type: 'logarithmic', display: false, min: p.yMin, max: 1 }
      }
    },
    plugins: [gnuAxes]
  });

  const label = document.createElement('div');
  label.className = 'name';
  label.textContent = p.name;
  label.style.left = NAME_X[col] + 'px';
  label.style.top = NAME_Y[row] + 'px';
  document.body.appendChild(label);
});

sectionTitles.forEach((t, r) => {
  const d = document.createElement('div');
  d.className = 'section';
  d.textContent = t;
  d.style.top = SECTION_Y[r] + 'px';
  document.body.appendChild(d);
});

// legend at the bottom
const legendItems = [
  { text: legendLabels[0], right: 412, y: 1432, lineLeft: 432, color: '#ff0000', marker: false },
  { text: legendLabels[1], right: 412, y: 1462, lineLeft: 432, color: '#12881a', marker: true },
  { text: legendLabels[2], right: 838, y: 1428, lineLeft: 858, color: '#000000', marker: false },
  { text: legendLabels[3], right: 838, y: 1460, lineLeft: 858, color: '#0000ff', marker: false }
];
legendItems.forEach(it => {
  const t = document.createElement('div');
  t.className = 'ltext';
  t.textContent = it.text;
  t.style.right = (1142 - it.right) + 'px';
  t.style.top = it.y + 'px';
  document.body.appendChild(t);
  const l = document.createElement('div');
  l.className = 'lline';
  l.style.left = it.lineLeft + 'px';
  l.style.top = it.y + 'px';
  l.style.borderTop = '1.5px solid ' + it.color;
  document.body.appendChild(l);
  if (it.marker) {
    const m = document.createElement('div');
    m.style.cssText = 'position:absolute;width:4px;height:4px;border:1px solid ' + it.color + ';border-radius:50%;background:#fff;';
    m.style.left = (it.lineLeft + 38) + 'px';
    m.style.top = (it.y - 2.5) + 'px';
    document.body.appendChild(m);
  }
});
</script>
</body>
</html>
